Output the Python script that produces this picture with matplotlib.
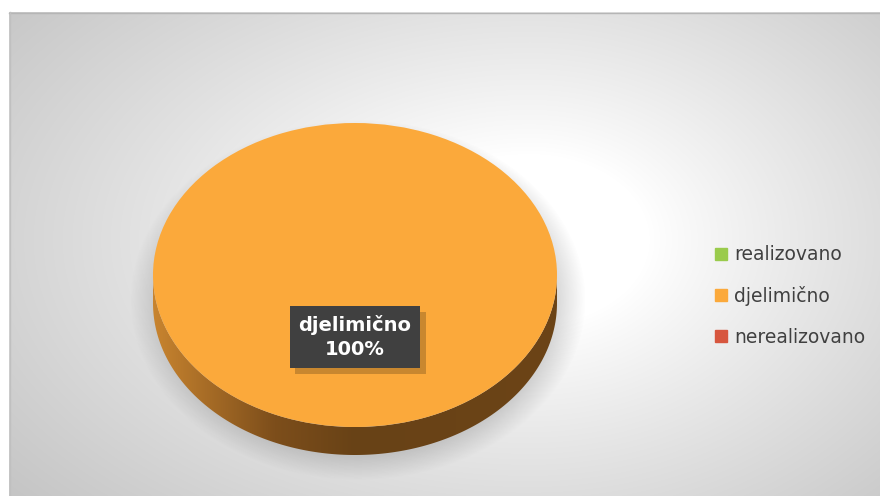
import numpy as np
import matplotlib.pyplot as plt
from matplotlib.patches import Polygon
from matplotlib.lines import Line2D
from matplotlib.colors import LinearSegmentedColormap
import matplotlib.patheffects as pe

# data
categories = ['realizovano', 'djelimično', 'nerealizovano']
shares = [0, 100, 0]
colors = ['#9acb4c', '#fba93b', '#d7563e']

W, H = 880, 496
fig = plt.figure(figsize=(W / 100, H / 100), dpi=100)

# background with radial gradient + pie shadow (pixel coords)
bg = fig.add_axes([0, 0, 1, 1])
bg.set_axis_off()
yy, xx = np.mgrid[0:H, 0:W] + 0.5
gx = np.where(xx < 530, (xx - 530) / 560, (xx - 530) / 460)
r = np.sqrt(gx ** 2 + ((yy - 240) / 330) ** 2)
val = 1 - 0.2 * np.clip((r - 0.26) / 0.82, 0, 1.2) ** 0.9
val[(xx < 9) | (yy < 12)] = 1.0
img = np.dstack([val, val, val])
bg.imshow(img, extent=(0, W, H, 0), interpolation='bilinear')

rs = np.sqrt(((xx - 358) / 215) ** 2 + ((yy - 300) / 170) ** 2)
sh = np.zeros((H, W, 4))
sh[..., :3] = 0.45
sh[..., 3] = 0.28 * np.clip((1.06 - rs) / 0.14, 0, 1)
bg.imshow(sh, extent=(0, W, H, 0), interpolation='bilinear')
bg.plot([9, W], [12.5, 12.5], color='#b5b5b5', lw=1)
bg.plot([9.5, 9.5], [12, H], color='#c0c0c0', lw=1)
bg.set_xlim(0, W)
bg.set_ylim(H, 0)

# pie axes: unit = 202 px in x, 152 px in y, centre at (355, 275)
cx, cy, ax_r, ay_r = 355, 275, 202, 152
pax = fig.add_axes([0, 0, 1, 1])
pax.patch.set_alpha(0)

wedges, _ = pax.pie(shares, colors=colors, startangle=90, counterclock=False,
                    wedgeprops=dict(linewidth=0))
for w in wedges:
    w.set_zorder(3)

# 3d side of the disc
d = 28 / ay_r
t = np.linspace(np.pi, 2 * np.pi, 200)
top = np.column_stack([np.cos(t), np.sin(t)])
bot = np.column_stack([np.cos(t[::-1]), np.sin(t[::-1]) - d])
side = Polygon(np.vstack([top, bot]), closed=True, fc='none', ec='none')
pax.add_patch(side)
side_cmap = LinearSegmentedColormap.from_list(
    'side', [(0, '#c8842f'), (0.3, '#7d4e1b'), (0.5, '#684216'), (1, '#6c4417')])
grad = np.linspace(0, 1, 256).reshape(1, -1)
im = pax.imshow(grad, cmap=side_cmap, extent=(-1, 1, -1 - d, 0), aspect='auto',
                zorder=2, interpolation='bilinear')
im.set_clip_path(side)

# data label
i = shares.index(max(shares))
wd = wedges[i]
mid = np.deg2rad((wd.theta1 + wd.theta2) / 2)
lx, ly = 0.41 * np.cos(mid), 0.41 * np.sin(mid)
pct = shares[i] / sum(shares) * 100
lab = f"{categories[i]}\n{pct:.0f}%"
txt = pax.text(lx, ly, lab, ha='center', va='center', color='white', fontsize=14,
               fontweight='bold', linespacing=1.35, zorder=5,
               bbox=dict(boxstyle='square,pad=0.45', fc='#404040', ec='none'))
txt.get_bbox_patch().set_path_effects([
    pe.SimplePatchShadow(offset=(4, -4), shadow_rgbFace='black', alpha=0.2), pe.Normal()])

pax.set_aspect('auto')
pax.set_xlim(-cx / ax_r, (W - cx) / ax_r)
pax.set_ylim(-(H - cy) / ay_r, cy / ay_r)
pax.set_axis_off()

# legend
handles = [Line2D([], [], marker='s', linestyle='', markersize=8, color=c) for c in colors]
fig.legend(handles, categories, loc='center left', bbox_to_anchor=(706 / W, 1 - 296 / H),
           frameon=False, fontsize=13.5, labelspacing=1.16, handlelength=0.8,
           handletextpad=0.3, borderaxespad=0, labelcolor='#404040')

fig.savefig('out.png', dpi=100)
